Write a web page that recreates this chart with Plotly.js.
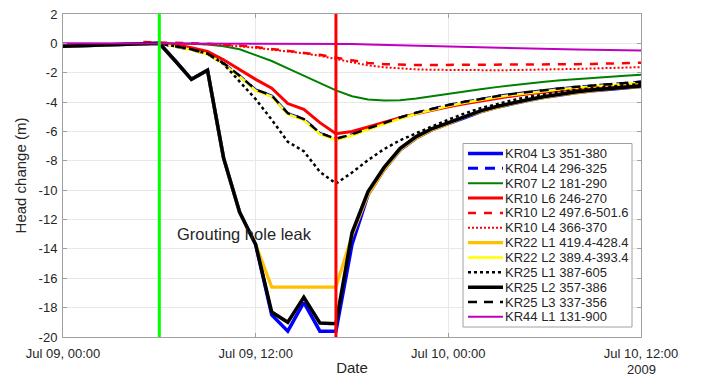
<!DOCTYPE html>
<html><head><meta charset="utf-8">
<script src="https://cdn.plot.ly/plotly-3.0.1.min.js"></script>
<style>html,body{margin:0;padding:0;background:#fff}#chart{width:701px;height:378px}</style>
</head><body><div id="chart"></div>
<script>
var N = null;
// hours after 2009-07-09 00:00
var hours = [0,1,2,3,4,5,6,7,8,9,10,11,12,13,14,15,16,17,18,19,20,21,22,23,24,25,26,27,28,29,30,31,32,33,34,35,36];

var seriesNames = ["KR04 L3 351-380","KR04 L4 296-325","KR07 L2 181-290","KR10 L6 246-270","KR10 L2 497.6-501.6","KR10 L4 366-370","KR22 L1 419.4-428.4","KR22 L2 389.4-393.4","KR25 L1 387-605","KR25 L2 357-386","KR25 L3 337-356","KR44 L1 131-900"];

var kr04L3 = [-0.2,N,N,N,N,N, 0,-1.2,-2.45,-1.83,-7.8,-11.5,-13.7,-18.5,-19.6,-17.65,-19.6,-19.6, -13.7,-10.3,-8.6,-7.25,-6.45,-5.88,-5.47,-5.02,-4.66,-4.36,-4.1,-3.87,-3.67,-3.5,-3.35,-3.22,-3.11,-3.02,-2.94];
var kr04L4 = [N,N,N,N,N,N, 0,-0.22,-0.42,-0.72,-1.37,-2.22,-3.17,-3.58,-4.78,-5.17,-6.13,-6.52, -6.22,-5.82,-5.42,-5.07,-4.74,-4.47,-4.22,-4.0,-3.8,-3.62,-3.46,-3.32,-3.19,-3.08,-2.98,-2.89,-2.8,-2.72,-2.64];
var kr07L2 = [N,N,N,N,N,N, 0,0,-0.02,-0.08,-0.2,-0.4,-0.8,-1.2,-1.7,-2.2,-2.7,-3.2, -3.6,-3.82,-3.9,-3.87,-3.75,-3.58,-3.42,-3.26,-3.12,-2.98,-2.84,-2.72,-2.61,-2.51,-2.42,-2.34,-2.27,-2.2,-2.14];
var kr10L6 = [N,N,N,N,N,N, 0,-0.1,-0.3,-0.55,-1.12,-1.8,-2.45,-3.05,-4.1,-4.5,-5.4,-6.15, -6.0,-5.7,-5.37,-5.07,-4.8,-4.55,-4.32,-4.11,-3.92,-3.74,-3.58,-3.44,-3.31,-3.2,-3.09,-3.0,-2.91,-2.83,-2.76];
var kr10L2 = [N,N,N,N,N,0.1, 0.05,0.05,0,-0.03,-0.08,-0.15,-0.25,-0.38,-0.5,-0.62,-0.78,-0.97, -1.17,-1.33,-1.42,-1.46,-1.47,-1.47,-1.47,-1.47,-1.46,-1.46,-1.45,-1.45,-1.44,-1.43,-1.42,-1.4,-1.38,-1.35,-1.32];
var kr10L4 = [N,N,N,N,N,N, 0,0,-0.03,-0.06,-0.12,-0.2,-0.3,-0.42,-0.55,-0.68,-0.85,-1.05, -1.3,-1.5,-1.63,-1.72,-1.77,-1.8,-1.82,-1.83,-1.83,-1.83,-1.82,-1.81,-1.79,-1.77,-1.74,-1.71,-1.68,-1.65,-1.62];
var kr22L1 = [-0.2,N,N,N,N,N, 0,-1.2,-2.45,-1.83,-7.8,-11.5,-13.7,-16.6,-16.6,-16.6,-16.6,-16.6, -13.1,-10.3,-8.6,-7.25,-6.45,-5.88,-5.47,-5.02,-4.66,-4.36,-4.1,-3.87,-3.67,-3.5,-3.35,-3.22,-3.11,-3.02,-2.94];
var kr22L2 = [N,N,N,N,N,N, 0,-0.22,-0.43,-0.74,-1.4,-2.26,-3.22,-3.62,-4.82,-5.22,-6.18,-6.58, -6.28,-5.88,-5.48,-5.13,-4.8,-4.52,-4.27,-4.05,-3.85,-3.67,-3.51,-3.37,-3.24,-3.13,-3.03,-2.94,-2.85,-2.77,-2.69];
var kr25L1 = [N,N,N,N,N,N, 0,-0.2,-0.4,-0.7,-1.4,-2.6,-3.8,-5.2,-6.7,-7.35,-8.75,-9.55, -8.8,-7.95,-7.2,-6.6,-6.1,-5.65,-5.2,-4.78,-4.42,-4.12,-3.87,-3.65,-3.46,-3.3,-3.16,-3.04,-2.94,-2.85,-2.77];
var kr25L2 = [-0.2,N,N,N,N,N, 0,-1.2,-2.45,-1.83,-7.8,-11.5,-13.7,-18.3,-19.0,-17.3,-19.05,-19.1, -12.9,-10.1,-8.45,-7.15,-6.35,-5.8,-5.4,-4.95,-4.6,-4.3,-4.05,-3.82,-3.62,-3.45,-3.3,-3.18,-3.07,-2.98,-2.9];
var kr25L3 = [N,N,N,N,N,N, 0,-0.2,-0.4,-0.7,-1.35,-2.2,-3.15,-3.55,-4.75,-5.15,-6.1,-6.5, -6.2,-5.8,-5.4,-5.05,-4.72,-4.45,-4.2,-3.98,-3.78,-3.6,-3.44,-3.3,-3.17,-3.06,-2.96,-2.87,-2.78,-2.7,-2.62];
var kr44L1 = [0,N,N,N,N,N, 0,0,0,0,0,0,0,0,0,0,0,-0.02, -0.05,-0.08,-0.11,-0.14,-0.17,-0.2,-0.23,-0.26,-0.29,-0.31,-0.34,-0.36,-0.38,-0.4,-0.42,-0.44,-0.45,-0.47,-0.48];

var eventHours = [6, 17];          // green: start, red: end
var xTickHours = [0, 12, 24, 36];
var xTickLabels = ["Jul 09, 00:00","Jul 09, 12:00","Jul 10, 00:00","Jul 10, 12:00"];
var yTickVals = [-20,-18,-16,-14,-12,-10,-8,-6,-4,-2,0,2];
var noteText = "Grouting hole leak";
var noteHour = 7, noteValue = -13.0;

// styles (kept apart from data)
var colors = ["#0000FF","#0000FF","#008000","#FF0000","#FF0000","#FF0000","#FFC000","#FFFF00","#000000","#000000","#000000","#BF00BF"];
var widths = [3.5,3,2,3,2.5,2,3.2,2.5,2.5,3.5,2.5,2];
var dashes = ["solid","10px,7px","solid","solid","8px,8px","2px,2px","solid","solid","3px,3px","solid","9px,7px","solid"];
var values = [kr04L3,kr04L4,kr07L2,kr10L6,kr10L2,kr10L4,kr22L1,kr22L2,kr25L1,kr25L2,kr25L3,kr44L1];

function pad(n){return (n<10?"0":"")+n;}
function hourToDate(h){
  var d = new Date(Date.UTC(2009,6,9) + h*3600000);
  return d.getUTCFullYear()+"-"+pad(d.getUTCMonth()+1)+"-"+pad(d.getUTCDate())+" "+pad(d.getUTCHours())+":"+pad(d.getUTCMinutes());
}
var xDates = hours.map(hourToDate);

var traces = values.map(function(v,i){
  return {type:"scatter", mode:"lines", x:xDates, y:v, name:seriesNames[i], connectgaps:true,
    line:{color:colors[i], width:widths[i], dash:dashes[i]}, showlegend:false, hoverinfo:"x+y+name"};
});

var fam = "Arial, 'Liberation Sans', sans-serif";
var tickFont = {family:fam, size:13, color:"#262626"};
var titleFont = {family:fam, size:15, color:"#262626"};
var legFont = {family:fam, size:13, color:"#262626"};
var L = 63, R = 641, T = 14, B = 337;
function px2x(p){return (p-L)/(R-L);}
function px2y(p){return (B-p)/(B-T);}

var shapes = eventHours.map(function(h,i){
  return {type:"line", xref:"x", yref:"paper", x0:hourToDate(h), x1:hourToDate(h), y0:0, y1:1,
    line:{color:i===0?"#00FF00":"#FF0000", width:3}, layer:"above"};
});
// legend box
shapes.push({type:"rect", xref:"paper", yref:"paper", x0:px2x(463), x1:px2x(632), y0:px2y(143.5), y1:px2y(327),
  fillcolor:"#FFFFFF", line:{color:"#A0A0A0", width:1}, layer:"above"});
var annotations = [];
seriesNames.forEach(function(n,i){
  var py = 153.5 + i*14.85;
  shapes.push({type:"line", xref:"paper", yref:"paper", x0:px2x(468), x1:px2x(503), y0:px2y(py), y1:px2y(py),
    line:{color:colors[i], width:widths[i], dash:dashes[i]}, layer:"above"});
  annotations.push({xref:"paper", yref:"paper", x:px2x(503), y:px2y(py), text:n, showarrow:false,
    xanchor:"left", yanchor:"middle", font:legFont});
});
annotations.push({xref:"x", yref:"y", x:hourToDate(noteHour), y:noteValue, text:noteText, showarrow:false,
  xanchor:"left", yanchor:"middle", font:{family:fam, size:16.5, color:"#262626"}});
annotations.push({xref:"paper", yref:"paper", x:1, y:px2y(369), text:"2009", showarrow:false,
  xanchor:"center", yanchor:"middle", font:tickFont});

var axisCommon = {showline:true, linecolor:"#A0A0A0", linewidth:1, mirror:"ticks", ticks:"inside", ticklen:4,
  tickcolor:"#A0A0A0", showgrid:true, gridcolor:"#E8E8E8", gridwidth:1, zeroline:false, tickfont:tickFont};

var layout = {
  width:701, height:378, margin:{l:L, r:701-R, t:T, b:378-B},
  paper_bgcolor:"#FFFFFF", plot_bgcolor:"#FFFFFF", showlegend:false,
  xaxis:Object.assign({}, axisCommon, {type:"date", range:[hourToDate(0), hourToDate(36)],
    tickmode:"array", tickvals:xTickHours.map(hourToDate), ticktext:xTickLabels, ticklabelstandoff:4,
    title:{text:"Date", font:titleFont, standoff:2}}),
  yaxis:Object.assign({}, axisCommon, {range:[-20,2], tickmode:"array", tickvals:yTickVals,
    ticktext:yTickVals.map(String), ticklabelstandoff:2, title:{text:"Head change (m)", font:titleFont, standoff:8}}),
  shapes:shapes, annotations:annotations
};
Plotly.newPlot("chart", traces, layout, {displayModeBar:false, staticPlot:true});
</script></body></html>
